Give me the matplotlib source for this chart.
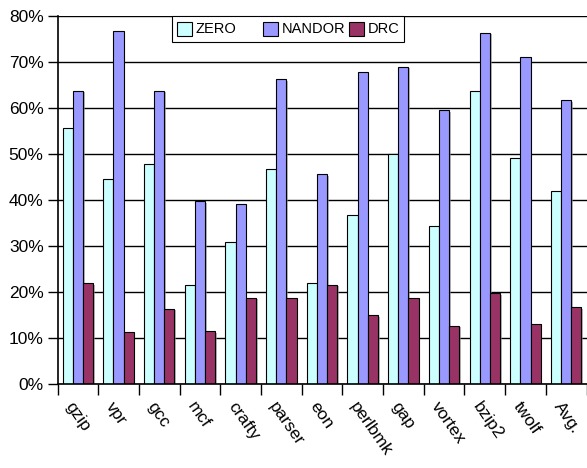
import matplotlib
matplotlib.use("Agg")
import matplotlib.pyplot as plt
import matplotlib.patheffects as pe
import matplotlib.transforms as mtransforms
from matplotlib.patches import Rectangle
from matplotlib.ticker import FixedLocator, PercentFormatter
import numpy as np

plt.rcParams['font.family'] = ['Liberation Sans', 'DejaVu Sans']

categories = ["gzip", "vpr", "gcc", "mcf", "crafty", "parser", "eon",
              "perlbmk", "gap", "vortex", "bzip2", "twolf", "Avg."]
zero = [55.6, 44.6, 47.8, 21.6, 30.9, 46.7, 21.9, 36.7, 50.1, 34.3, 63.8, 49.2, 41.9]
nandor = [63.8, 76.8, 63.8, 39.8, 39.2, 66.2, 45.6, 67.8, 69.0, 59.5, 76.4, 71.0, 61.7]
drc = [21.9, 11.2, 16.4, 11.5, 18.8, 18.6, 21.6, 14.9, 18.6, 12.7, 19.7, 13.0, 16.7]

series = [("ZERO", zero, "#CCFFFF"),
          ("NANDOR", nandor, "#9999FF"),
          ("DRC", drc, "#993366")]

W, H = 587, 468
fig = plt.figure(figsize=(W / 100, H / 100), dpi=100)
ax = fig.add_axes([57.5 / W, (H - 384) / H, 529 / W, 368 / H])

shadow = [pe.SimplePatchShadow(offset=(1.2, -1.2), shadow_rgbFace="#888888", alpha=0.6),
          pe.Normal()]

x = np.arange(len(categories))
bw = 0.25
for i, (name, vals, color) in enumerate(series):
    bars = ax.bar(x + (i - 1) * bw, vals, width=bw, color=color,
                  edgecolor="black", linewidth=0.8, label=name, zorder=3)
    for b in bars:
        b.set_path_effects(shadow)

ax.set_xlim(-0.5, len(categories) - 0.5)
ax.set_ylim(0, 80)
ax.yaxis.set_major_locator(FixedLocator(np.arange(0, 81, 10)))
ax.yaxis.set_major_formatter(PercentFormatter(decimals=0))
ax.grid(axis="y", color="black", linewidth=1.0, zorder=0)
ax.set_axisbelow(True)

for s in ("top", "right"):
    ax.spines[s].set_visible(False)
for s in ("left", "bottom"):
    ax.spines[s].set_linewidth(1.2)
    ax.spines[s].set_zorder(4)

ax.tick_params(axis="y", direction="out", length=7, width=1, labelsize=12.5, pad=3)
ax.set_xticks(x)
ax.set_xticks(np.arange(-0.5, len(categories)), minor=True)
ax.tick_params(axis="x", which="major", length=0, pad=11)
ax.tick_params(axis="x", which="minor", direction="out", length=8, width=1)
ax.set_xticklabels(categories, rotation=-55, ha="left", va="top",
                   rotation_mode="anchor", fontsize=12.5)
shift = mtransforms.ScaledTranslation(-3 / 100, 0, fig.dpi_scale_trans)
for lab in ax.get_xticklabels():
    lab.set_transform(lab.get_transform() + shift)

# Legend with equal-width columns, laid out in figure pixels
def px(xp, yp):
    return xp / W, 1 - yp / H

box_l, box_t, box_r, box_b = 172, 16, 404, 41.5
fig.patches.append(Rectangle(px(box_l, box_b), (box_r - box_l) / W, (box_b - box_t) / H,
                             transform=fig.transFigure, facecolor="white",
                             edgecolor="black", linewidth=0.8, zorder=10))
col_pitch = 86
for i, (name, vals, color) in enumerate(series):
    hx = 177 + i * col_pitch
    fig.patches.append(Rectangle(px(hx, 36), 15 / W, 14 / H,
                                 transform=fig.transFigure, facecolor=color,
                                 edgecolor="black", linewidth=0.8, zorder=11))
    tx, ty = px(hx + 19, 29)
    fig.text(tx, ty, name, transform=fig.transFigure, fontsize=10.5,
             ha="left", va="center", zorder=12)

fig.savefig("out.png", dpi=100)
